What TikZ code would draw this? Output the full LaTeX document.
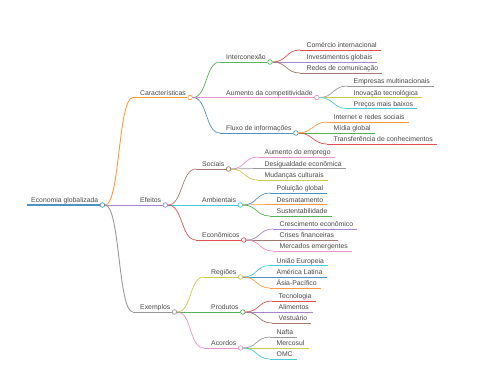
\documentclass[tikz,border=0pt]{standalone}
\usepackage{fontspec}
\setmainfont{Liberation Sans}
\usetikzlibrary{calc}
\definecolor{mmblue}{HTML}{4C92C3}
\definecolor{mmorange}{HTML}{FF9A3E}
\definecolor{mmgreen}{HTML}{56B356}
\definecolor{mmred}{HTML}{DE5253}
\definecolor{mmpurple}{HTML}{A985CA}
\definecolor{mmbrown}{HTML}{A3786F}
\definecolor{mmpink}{HTML}{E992CE}
\definecolor{mmgray}{HTML}{999999}
\definecolor{mmolive}{HTML}{C9CA4E}
\definecolor{mmcyan}{HTML}{45CBD9}

\begin{document}
\begin{tikzpicture}[
  x=1pt, y=-1pt,
  lbl/.style={font=\fontsize{6.85}{8}\selectfont, text=black!72, anchor=base west, inner sep=0pt},
  dot/.style={circle, draw, fill=white, inner sep=0pt, minimum size=4.6pt, line width=0.7pt},
  uline/.style={line width=0.7pt},
  link/.style={line width=0.7pt}
]
\useasboundingbox (0,0) rectangle (480,384);

% root
\coordinate (root-s) at (27,205);
\node[lbl] (root) at (31,202.7) {Economia globalizada};
\node[dot, draw=mmblue] (root-o) at ($(root.east |- root-s)+(4,0)$) {};
\draw[line width=1.6pt, mmblue] (root-s) -- (root-o.west);

% first level
\coordinate (car-s) at (133,97.5);
\node[lbl] (car) at (140,95.3) {Características};
\node[dot, draw=mmorange] (car-o) at ($(car.east |- car-s)+(4,0)$) {};
\draw[line width=0.9pt, mmorange] (car-s) -- (car-o.west);
\draw[line width=0.9pt, mmorange] (root-o.east) .. controls +(15,0) and +(-15,0) .. (car-s);

\coordinate (efe-s) at (133,205);
\node[lbl] (efe) at (140,202.8) {Efeitos};
\node[dot, draw=mmpurple] (efe-o) at ($(efe.east |- efe-s)+(4,0)$) {};
\draw[line width=0.9pt, mmpurple] (efe-s) -- (efe-o.west);
\draw[line width=0.9pt, mmpurple] (root-o.east) -- (efe-s);

\coordinate (exe-s) at (133,312);
\node[lbl] (exe) at (140,309.8) {Exemplos};
\node[dot, draw=mmgray] (exe-o) at ($(exe.east |- exe-s)+(4,0)$) {};
\draw[line width=0.9pt, mmgray] (exe-s) -- (exe-o.west);
\draw[line width=0.9pt, mmgray] (root-o.east) .. controls +(15,0) and +(-15,0) .. (exe-s);

% second level
\coordinate (int-s) at (220,62);
\node[lbl] (int) at (226,59.8) {Interconexão};
\node[dot, draw=mmgreen] (int-o) at ($(int.east |- int-s)+(4,0)$) {};
\draw[uline, mmgreen] (int-s) -- (int-o.west);
\draw[link, mmgreen] (car-o.east) .. controls +(15,0) and +(-15,0) .. (int-s);

\coordinate (comp-s) at (220,97.5);
\node[lbl] (comp) at (226,95.3) {Aumento da competitividade};
\node[dot, draw=mmpink] (comp-o) at ($(comp.east |- comp-s)+(4,0)$) {};
\draw[uline, mmpink] (comp-s) -- (comp-o.west);
\draw[link, mmpink] (car-o.east) -- (comp-s);

\coordinate (flu-s) at (220,133);
\node[lbl] (flu) at (226,130.8) {Fluxo de informações};
\node[dot, draw=mmblue] (flu-o) at ($(flu.east |- flu-s)+(4,0)$) {};
\draw[uline, mmblue] (flu-s) -- (flu-o.west);
\draw[link, mmblue] (car-o.east) .. controls +(15,0) and +(-15,0) .. (flu-s);

\coordinate (soc-s) at (196,169);
\node[lbl] (soc) at (202,166.8) {Sociais};
\node[dot, draw=mmbrown] (soc-o) at ($(soc.east |- soc-s)+(4,0)$) {};
\draw[uline, mmbrown] (soc-s) -- (soc-o.west);
\draw[link, mmbrown] (efe-o.east) .. controls +(15,0) and +(-15,0) .. (soc-s);

\coordinate (amb-s) at (196,205);
\node[lbl] (amb) at (202,202.8) {Ambientais};
\node[dot, draw=mmcyan] (amb-o) at ($(amb.east |- amb-s)+(4,0)$) {};
\draw[uline, mmcyan] (amb-s) -- (amb-o.west);
\draw[link, mmcyan] (efe-o.east) -- (amb-s);

\coordinate (eco-s) at (196,240);
\node[lbl] (eco) at (202,237.8) {Econômicos};
\node[dot, draw=mmred] (eco-o) at ($(eco.east |- eco-s)+(4,0)$) {};
\draw[uline, mmred] (eco-s) -- (eco-o.west);
\draw[link, mmred] (efe-o.east) .. controls +(15,0) and +(-15,0) .. (eco-s);

\coordinate (reg-s) at (204,277);
\node[lbl] (reg) at (211,274.8) {Regiões};
\node[dot, draw=mmolive] (reg-o) at ($(reg.east |- reg-s)+(4,0)$) {};
\draw[uline, mmolive] (reg-s) -- (reg-o.west);
\draw[link, mmolive] (exe-o.east) .. controls +(15,0) and +(-15,0) .. (reg-s);

\coordinate (pro-s) at (204,312);
\node[lbl] (pro) at (211,309.8) {Produtos};
\node[dot, draw=mmgreen] (pro-o) at ($(pro.east |- pro-s)+(4,0)$) {};
\draw[uline, mmgreen] (pro-s) -- (pro-o.west);
\draw[link, mmgreen] (exe-o.east) -- (pro-s);

\coordinate (aco-s) at (204,348);
\node[lbl] (aco) at (211,345.8) {Acordos};
\node[dot, draw=mmpink] (aco-o) at ($(aco.east |- aco-s)+(4,0)$) {};
\draw[uline, mmpink] (aco-s) -- (aco-o.west);
\draw[link, mmpink] (exe-o.east) .. controls +(15,0) and +(-15,0) .. (aco-s);

% leaves
\foreach \p/\xs/\y/\col/\txt [count=\i] in {
  int/300/50/mmred/Comércio internacional, int/300/62/mmpurple/Investimentos globais, int/300/73/mmbrown/Redes de comunicação,
  comp/347/86/mmgray/Empresas multinacionais, comp/347/97.5/mmolive/Inovação tecnológica, comp/347/108.5/mmcyan/Preços mais baixos,
  flu/327/122/mmorange/Internet e redes sociais, flu/327/133/mmgreen/Mídia global, flu/327/144/mmred/Transferência de conhecimentos,
  soc/258/157/mmpink/Aumento do emprego, soc/258/168.5/mmgray/Desigualdade econômica, soc/258/180/mmolive/Mudanças culturais,
  amb/270/193/mmblue/Poluição global, amb/270/204.5/mmorange/Desmatamento, amb/270/216/mmgreen/Sustentabilidade,
  eco/273/229/mmpurple/Crescimento econômico, eco/273/240/mmbrown/Crises financeiras, eco/273/251/mmpink/Mercados emergentes,
  reg/270/265.5/mmcyan/União Europeia, reg/270/277/mmblue/América Latina, reg/270/288/mmorange/Ásia-Pacífico,
  pro/272/301/mmred/Tecnologia, pro/272/312/mmpurple/Alimentos, pro/272/323/mmbrown/Vestuário,
  aco/270/337/mmgray/Nafta, aco/270/348/mmolive/Mercosul, aco/270/359/mmcyan/OMC}{
  \coordinate (leaf\i-s) at (\xs,\y);
  \node[lbl] (leaf\i) at (\xs+6.5,\y-2.2) {\txt};
  \draw[uline, \col] (leaf\i-s) -- ($(leaf\i.east |- leaf\i-s)+(4,0)$);
  \draw[link, \col] (\p-o.east) .. controls +(14,0) and +(-14,0) .. (leaf\i-s);
}
\end{tikzpicture}
\end{document}
